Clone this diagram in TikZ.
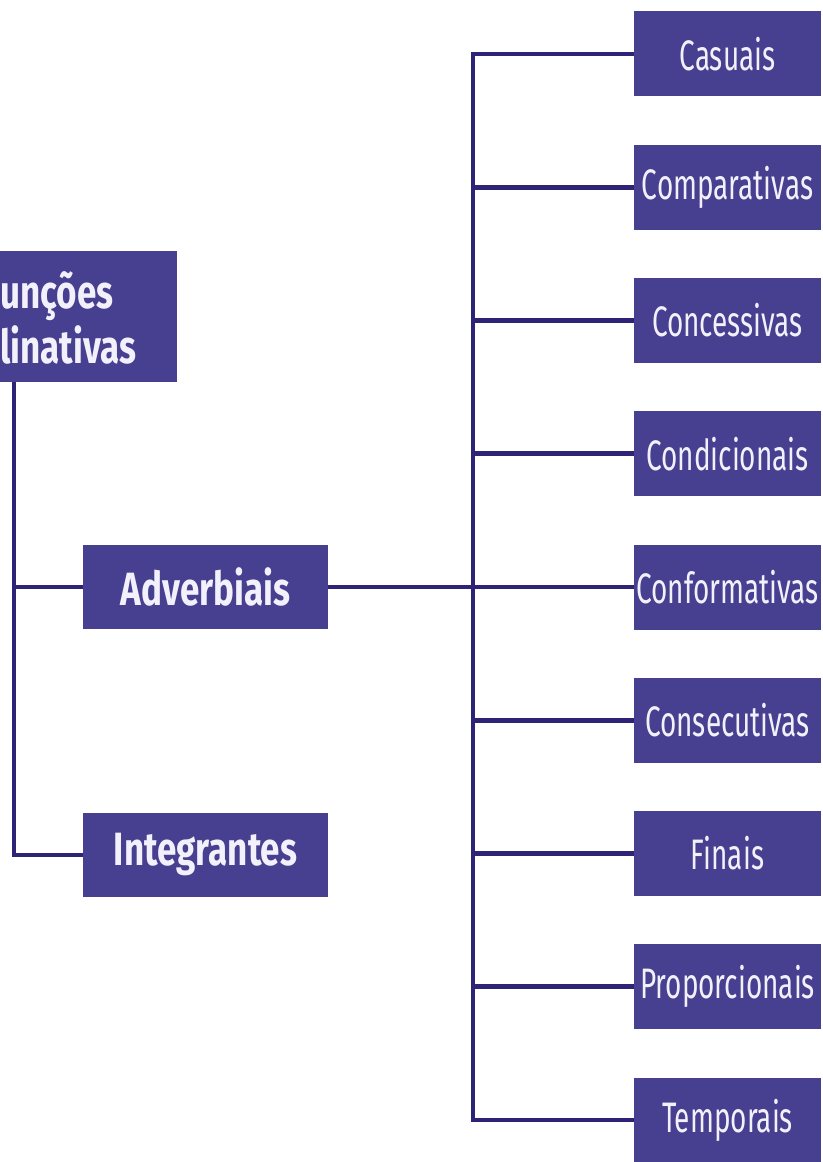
\documentclass[tikz,border=0pt]{standalone}
\usepackage{fontspec}
\newfontfamily\boxfont{Fira Sans}[FakeStretch=0.655]
\newfontfamily\mainfont{Fira Sans}[FakeStretch=0.75]
\usetikzlibrary{positioning}

\definecolor{boxfill}{RGB}{71,63,143}
\definecolor{linkline}{RGB}{45,36,120}
\definecolor{boxtext}{RGB}{242,240,250}

\tikzset{
  catbox/.style={rectangle, fill=boxfill, text=boxtext, inner sep=0pt},
  mainbox/.style={catbox, minimum width=183.75pt, minimum height=63pt, font=\mainfont\bfseries\fontsize{35}{40}\selectfont},
  subbox/.style={catbox, minimum width=140.25pt, minimum height=63.75pt, font=\boxfont\fontsize{32}{36}\selectfont},
  link/.style={draw=linkline, line width=3.4pt}
}

\begin{document}
\begin{tikzpicture}[x=0.75pt,y=0.75pt,yscale=-1,xscale=1]
%set diagram frame: 823 x 1162
\path[fill=white] (0,0) rectangle (823,1162);
\clip (0,0) rectangle (823,1162);

%Shape: Rectangle [root, cut at the left edge]
\node [catbox, minimum width=147.75pt, minimum height=98.25pt] (root) at (78.5,316.5) {};
% Text Node
\node [anchor=west, text=boxtext, inner sep=0pt, align=left, font=\mainfont\bfseries\fontsize{35}{41}\selectfont] (roottext) at (0,318) {unções\\linativas};

%Shape: Rectangle [left branch]
\node [mainbox] (adv) at (205.5,587) {Adverbiais};
\node [mainbox] (integ) at (205.5,855) {Integrantes};

%Shape: Rectangle [right column]
\foreach \lab [count=\i from 0] in {Casuais,Comparativas,Concessivas,Condicionais,Conformativas,Consecutivas,Finais,Proporcionais,Temporais}
  \node [subbox] (c\i) at (727.5,{54+\i*133.25}) {\lab};

%Trunk positions
\coordinate (trunkL) at (14,0);
\coordinate (trunkR) at (473,0);

%Straight Lines [left trunk]
\draw [link] (root.south -| trunkL) |- (integ.west);
\draw [link] (trunkL |- adv.west) -- (adv.west);
%Straight Lines [adverbiais to right trunk]
\draw [link] (adv.east) -- (c4.west);
%Straight Lines [right trunk]
\draw [link] (c0.west) -| (trunkR |- c8.west) -- (c8.west);
\foreach \i in {1,2,3,5,6,7}
  \draw [link] (trunkR |- c\i.west) -- (c\i.west);

\end{tikzpicture}
\end{document}
